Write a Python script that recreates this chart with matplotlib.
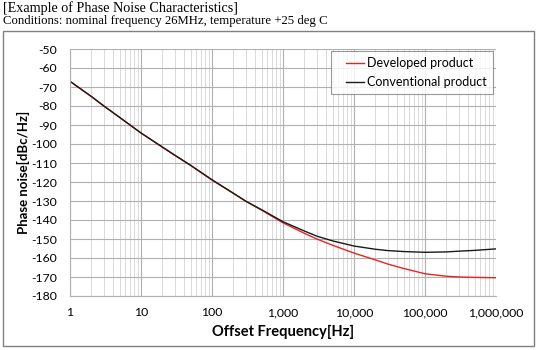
import matplotlib
matplotlib.use("Agg")
import matplotlib.pyplot as plt
from matplotlib.patches import Rectangle
from matplotlib.lines import Line2D
from matplotlib.legend_handler import HandlerLine2D
from matplotlib.ticker import FixedLocator, LogLocator, NullFormatter

freq = [1, 2, 3, 5, 10, 20, 30, 50, 100, 200, 300, 500, 1000, 2000, 3000, 5000,
        10000, 20000, 30000, 50000, 100000, 200000, 300000, 500000, 1000000]
conventional = [-67, -75, -80, -86, -94.2, -101.6, -105.9, -111.2, -118.8, -125.9, -130.1, -134.6,
                -140.9, -145.8, -148.5, -151.0, -153.7, -155.4, -156.1, -156.6, -157, -156.8,
                -156.4, -156, -155.2]
developed = [-67, -75, -80, -86, -94.2, -101.7, -106, -111.3, -119, -126, -130.2, -134.8,
             -141.5, -147.0, -150.0, -153.3, -157.4, -161, -163.2, -165.5, -168.3, -169.6,
             -170.0, -170.2, -170.4]
xticks = [1, 10, 100, 1000, 10000, 100000, 1000000]
xticklabels = ["1", "10", "100", "1,000", "10,000", "100,000", "1,000,000"]
yticks = list(range(-180, -49, 10))

W, H = 537, 350
fig = plt.figure(figsize=(W / 100, H / 100), dpi=100)
font = "Lato"

fig.text(3 / W, 1 - 8 / H, "[Example of Phase Noise Characteristics]", family="Liberation Serif",
         fontsize=10.2, va="center", ha="left")
fig.text(3 / W, 1 - 21 / H, "Conditions: nominal frequency 26MHz, temperature +25 deg C",
         family="Liberation Serif", fontsize=9.2, va="center", ha="left")
fig.patches.append(Rectangle((3 / W, 1 - 346 / H), 531 / W, 315 / H, transform=fig.transFigure,
                             fill=False, edgecolor="#808080", linewidth=1))

ax = fig.add_axes([70 / W, 1 - 296 / H, 426 / W, 247 / H])
ax.set_xscale("log")
ax.set_xlim(1, 1e6)
ax.set_ylim(-180, -50)
ax.plot(freq, developed, color="#e8241f", lw=1.0, label="Developed product")
ax.plot(freq, conventional, color="#1a1a1a", lw=1.0, label="Conventional product")

ax.xaxis.set_major_locator(FixedLocator(xticks))
ax.set_xticks(xticks)
ax.set_xticklabels(xticklabels, family=font, fontsize=8.8)
ax.xaxis.set_minor_locator(LogLocator(base=10, subs=range(2, 10)))
ax.xaxis.set_minor_formatter(NullFormatter())
ax.set_yticks(yticks)
ax.set_yticklabels([str(v) for v in yticks], family=font, fontsize=8.8)
ax.tick_params(which="both", length=0)
ax.tick_params(axis="y", pad=9.5)
ax.tick_params(axis="x", pad=8)
ax.grid(which="major", color="#b0b0b0", lw=0.8)
ax.grid(which="minor", axis="x", color="#d9d9d9", lw=0.7)
ax.set_axisbelow(True)
for s in ax.spines.values():
    s.set_visible(False)
ax.spines["left"].set_visible(True)
ax.spines["bottom"].set_visible(True)
ax.spines["left"].set_color("#b0b0b0")
ax.spines["bottom"].set_color("#b0b0b0")

ax.set_xlabel("Offset Frequency[Hz]", family=font, fontsize=10.5, fontweight="bold", labelpad=5)
ax.set_ylabel("Phase noise[dBc/Hz]", family=font, fontsize=9.5, fontweight="bold", labelpad=1)


class ShiftedLine(HandlerLine2D):
    def create_artists(self, legend, orig_handle, xdescent, ydescent, width, height, fontsize, trans):
        arts = super().create_artists(legend, orig_handle, xdescent, ydescent, width, height, fontsize, trans)
        for a in arts:
            if isinstance(a, Line2D):
                x = list(a.get_xdata())
                y = list(a.get_ydata())
                if len(x) >= 2 and len(y) == len(x):
                    x0, x1 = x[0], x[-1]
                    a.set_data([x0 + (x1 - x0) * 0.3, x1], [y[0], y[-1]])
        return arts


leg = ax.legend(loc="upper right", bbox_to_anchor=(423 / 426, 1 - 2 / 247), prop={"family": font, "size": 9},
                frameon=True, fancybox=False, edgecolor="#808080", borderaxespad=0,
                handlelength=2.1, handletextpad=0.25, labelspacing=0.55, borderpad=0.5,
                handler_map={Line2D: ShiftedLine()})
leg.get_frame().set_linewidth(0.8)

fig.savefig("out.png", dpi=100)
